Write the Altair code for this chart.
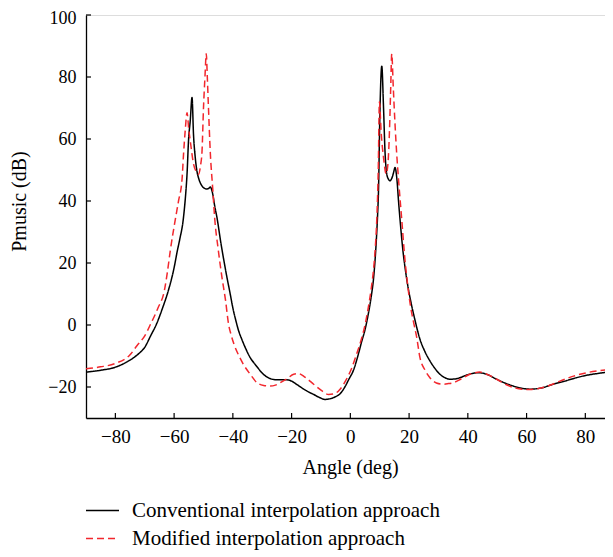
import altair as alt
import pandas as pd

series_names = ["Conventional interpolation approach", "Modified interpolation approach"]

angle_conv = [-90, -85, -80, -75, -72, -70, -68, -66, -64, -62, -60, -59, -58, -57, -56.5, -56, -55.6, -55.1,
              -54.5, -53.9, -53.4, -52.8, -52.2, -51.7, -50.8, -50, -49, -48.3, -47.7, -46.8, -46.2, -45.4,
              -44, -43, -42, -41, -40, -39, -38, -37, -36, -34.1, -32, -29.6, -27.5, -26, -24, -21.5, -20,
              -18.2, -16, -14, -12.5, -10.5, -8.6, -6.5, -5, -3.5, -2, -0.5, 1.1, 2.5, 3.9, 5, 6, 7, 8, 8.7,
              9.3, 9.55, 10.1, 10.7, 11.3, 11.8, 12.4, 13, 13.5, 14.1, 14.7, 15.2, 15.9, 16.4, 17.1, 17.9,
              18.7, 19.5, 20.6, 21.8, 23.7, 25.4, 27.1, 28.8, 30.5, 32.2, 33.9, 35.6, 37.3, 40, 43.6, 46.7,
              49.8, 52.6, 55.5, 58.3, 61.2, 65, 69.1, 73, 77, 80.5, 83.8, 87, 90]
pmusic_conv = [-15.2, -14.6, -13.6, -11.3, -9.2, -7.2, -3.5, 0.3, 5.3, 11, 18.5, 23.5, 28, 33.2, 37.5, 43, 48.7,
               59.4, 66, 73.4, 61.5, 54, 49.5, 47.5, 45.3, 44.3, 43.9, 44, 44.5, 42, 38.5, 34.6,
               26, 20.5, 15.3, 10.5, 5.5, 1.5, -2, -4.5, -6.8, -10.5, -13.2, -15.9, -17.2, -17.6, -17.7, -17.7,
               -18.1, -19.2, -20.6, -21.7, -22.4, -23.4, -24, -23.7, -23.1, -22.2, -20.2, -17.5, -14.5, -10.2,
               -5.2, -1.5, 3, 8.5, 16, 25, 36, 42, 70, 83.5, 70, 56, 48.7, 47, 46.5, 47.3, 49.1, 50.8, 46.5,
               40, 32, 24, 18, 13, 7.5, 2.4, -4.6, -8.6, -11.6, -14, -15.9, -17, -17.5, -17.4, -17, -16,
               -15.4, -16, -17.5, -18.7, -19.7, -20.4, -20.7, -20.3, -19.1, -18.1, -17, -16.2, -15.7, -15.3,
               -15.2]

angle_mod = [-90, -85, -80, -75, -72.6, -70, -68, -65.5, -63.3, -62.3, -61.3, -59.6, -58.5, -57.3, -56.8,
             -56.2, -55.6, -55, -54.5, -53.4, -52.5, -51.7, -51, -50.5, -50, -49.5, -49.05, -48.7, -48.3,
             -47.7, -46.8, -46.2, -45, -43.7, -42.5, -41.5, -40.5, -39.5, -38, -36.4, -34, -31.8, -29.5,
             -27.3, -25.5, -23.9, -21.5, -19.3, -17.6, -15.5, -12.5, -10, -7.4, -5.5, -3.5, -1.5, 0.5,
             2.2, 3.9, 5, 6, 7, 8, 8.5, 9, 9.5, 9.9, 10.5, 11.3, 12.2, 12.8, 13.3, 13.7, 14.1, 14.6, 15.2,
             15.8, 16.4, 17.5, 18.5, 19.5, 20.5, 21.5, 22.5, 23.7, 25.4, 27.1, 29.3, 31.7, 33.4, 35.1,
             37.5, 40.7, 44.1, 47, 49.8, 53, 56, 58.5, 61.2, 64.5, 67.5, 71.4, 76, 80.4, 85, 90]
pmusic_mod = [-14.1, -13.5, -12.4, -9.6, -6.6, -3.5, 0.3, 5.5, 11.2, 17, 24, 34, 40, 47, 55,
              63, 68.5, 63, 59.4, 52, 49.5, 48.6, 51.5, 56, 70, 80, 87.5, 80, 70,
              56, 43.2, 34.6, 24.5, 15.3, 8, 0.5, -3.5, -6.5, -9.8, -12.7, -16, -18.6, -19.5,
              -19.7, -19.4, -18.6, -17.3, -15.9, -15.7, -16.8, -19.1, -21, -22.4, -22.2, -20.7, -17.8, -13.8,
              -9.2, -4.1, 0, 5, 11, 19, 25, 34, 50, 72, 62, 54, 48.7, 52, 62, 75, 87.5, 77, 65,
              55, 47, 34, 22, 13, 6, 1, -3.5, -10.5, -14.5, -17, -18.7, -19.1, -18.9, -18.6,
              -17.5, -15.9, -15.2, -16.1, -17.5, -19.2, -20.3, -20.7, -20.8, -20.4, -19.6, -18.1, -16.5,
              -15.4, -14.7, -14.1]

x_ticks = [-80, -60, -40, -20, 0, 20, 40, 60, 80]
y_ticks = [-20, 0, 20, 40, 60, 80, 100]
x_domain = [-90, 86.7]   # the reference plot runs off the right edge of the image
y_domain = [-30, 100]

df_conv = pd.DataFrame({"angle": angle_conv, "pmusic": pmusic_conv, "series": series_names[0]})
df_mod = pd.DataFrame({"angle": angle_mod, "pmusic": pmusic_mod, "series": series_names[1]})

FONT = "Liberation Serif"
W, H = 519, 403

xscale = alt.Scale(domain=x_domain, nice=False, zero=False)
yscale = alt.Scale(domain=y_domain, nice=False, zero=False)
color_scale = alt.Scale(domain=series_names, range=["#000000", "#f2272d"])
dash_scale = alt.Scale(domain=series_names, range=[[1, 0], [7, 4]])

xaxis = alt.Axis(values=x_ticks, tickSize=0, labelPadding=9, labelFont=FONT,
                 labelFontSize=19, labelColor="#000", titleFont=FONT, titleFontSize=20,
                 titleFontWeight="normal", titleColor="#000", domainColor="#000",
                 domainWidth=1.3, grid=False, titleX=264, titleY=49, titleBaseline="middle",
                 titleAlign="center")
yaxis = alt.Axis(values=y_ticks, tickSize=0, labelPadding=10, labelFont=FONT,
                 labelFontSize=18, labelColor="#000", titleFont=FONT, titleFontSize=20,
                 titleFontWeight="normal", titleColor="#000", domainColor="#000",
                 domainWidth=1.3, grid=False, titleX=-67, titleY=186,
                 titleBaseline="middle", titleAlign="center", titleAngle=-90,
                 labelFlush=True, labelFlushOffset=6)
XT, YT = "Angle (deg)", "Pmusic (dB)"

legend = alt.Legend(
    title=None, orient="none", legendX=-1, legendY=478,
    symbolType="stroke", symbolSize=1089, symbolStrokeWidth=1.4,
    labelFont=FONT, labelFontSize=21, labelColor="#000000", labelOffset=12, labelLimit=0,
    rowPadding=0, padding=0, offset=0,
)

def line_layer(df):
    return alt.Chart(df).mark_line(strokeWidth=1.5, interpolate="monotone", clip=True).encode(
        x=alt.X("angle:Q", scale=xscale, title=XT, axis=xaxis),
        y=alt.Y("pmusic:Q", scale=yscale, title=YT, axis=yaxis),
        color=alt.Color("series:N", scale=color_scale, legend=legend),
        strokeDash=alt.StrokeDash("series:N", scale=dash_scale, legend=legend),
    )

xt = pd.DataFrame({"angle": x_ticks})
yt = pd.DataFrame({"pmusic": y_ticks})
xtick_layer = alt.Chart(xt).mark_rule(color="#000", strokeWidth=1.2).encode(
    x=alt.X("angle:Q", scale=xscale, title=XT, axis=xaxis), y=alt.value(H), y2=alt.value(H - 5))
ytick_layer = alt.Chart(yt).mark_rule(color="#000", strokeWidth=1.2).encode(
    y=alt.Y("pmusic:Q", scale=yscale, title=YT, axis=yaxis), x=alt.value(0), x2=alt.value(5))

chart = alt.layer(line_layer(df_conv), line_layer(df_mod), xtick_layer, ytick_layer).properties(
    width=W, height=H,
    autosize=alt.AutoSizeParams(type="none"),
    padding={"left": 78, "top": 7, "right": 0, "bottom": 135},
).configure_view(stroke=None).configure(background="#ffffff")

chart.save("out.html", embed_options={"renderer": "svg", "actions": False})
